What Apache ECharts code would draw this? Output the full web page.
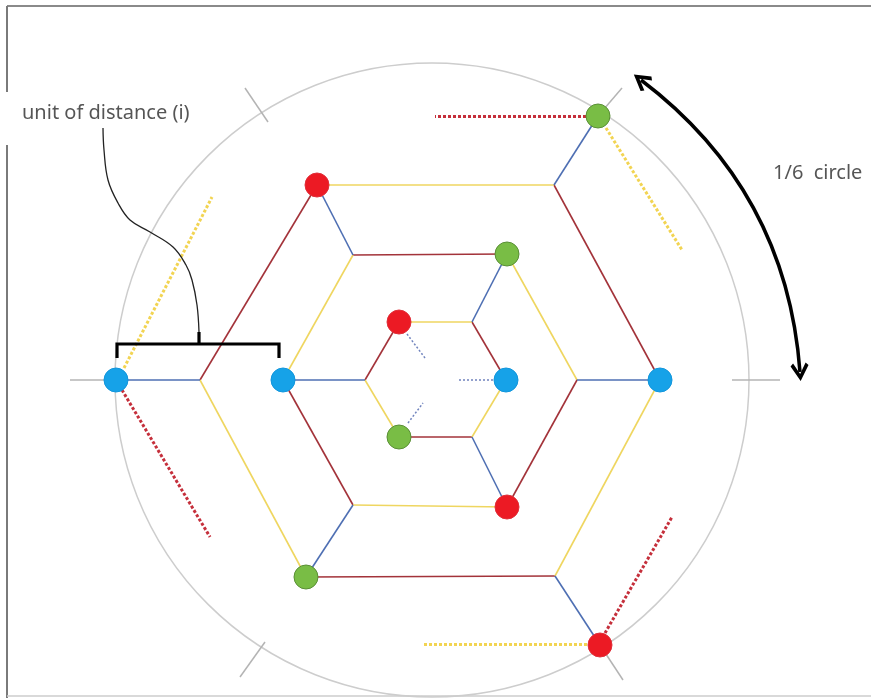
<!DOCTYPE html>
<html><head><meta charset="utf-8">
<script src="https://cdn.jsdelivr.net/npm/echarts@6/dist/echarts.min.js"></script>
<style>html,body{margin:0;padding:0;background:#fff}#c{width:871px;height:698px}</style>
</head><body><div id="c"></div>
<script>
// Diagram coordinates: origin at hexagon centre, x right, y up.
// Vertex order per ring: 0°, 60°, 120°, 180°, 240°, 300°
const ring1 = [[74,0],[40,58],[-33,58],[-67,0],[-33,-57],[40,-57]];
const ring2 = [[145,0],[75,126],[-79,125],[-149,0],[-79,-125],[75,-127]];
const ring3 = [[228,0],[122,195],[-115,195],[-232,0],[-126,-197],[123,-196]];
const ring4 = [null,[166,264],null,[-316,0],null,[168,-265]];
const circleRadius = 317;
const edgeColorsOdd  = ['red','yellow','red','yellow','red','yellow'];
const edgeColorsEven = ['yellow','red','yellow','red','yellow','red'];
// radial (blue) links: [from ring, vertex index] -> next ring, same vertex
const spokes = [[2,0],[1,1],[3,1],[2,2],[1,3],[3,3],[2,4],[1,5],[3,5]];
// dots: [ring, vertex index, colour]
const dots = [[1,0,'blue'],[1,2,'red'],[1,4,'green'],
              [2,3,'blue'],[2,1,'green'],[2,5,'red'],
              [3,0,'blue'],[3,2,'red'],[3,4,'green'],
              [4,3,'blue'],[4,1,'green'],[4,5,'red']];
// outer dotted half-edges: [start, end, colour]
const outerDotted = [
  [[154,264],[3,264],'red'],   [[174,252],[250,130],'yellow'],
  [[-308,12],[-220,183],'yellow'], [[-310,-10],[-222,-157],'red'],
  [[173,-253],[240,-137],'red'], [[155,-264],[-9,-264],'yellow']
];
// inner dotted stubs toward centre
const innerDotted = [[[-25,46],[-7,22]],[[61,0],[26,0]],[[-24,-43],[-9,-23]]];
// grey radial ticks across the circle
const ticks = [[[300,0],[348,0]],[[166,264],[190,292]],[[-187,292],[-164,258]],
               [[-362,0],[-316,0]],[[-192,-297],[-167,-262]],[[168,-265],[191,-300]]];
// bracket and its leader curve
const bracketLine = [[-315,22],[-315,36],[-153,36],[-153,22]];
const bracketTick = [[-233,36],[-233,48]];
const leaderCurve = [[-329,252],[-328,230],[-324,200],[-314,177],[-302,160],[-282,148],[-259,133],[-246,115],[-240,100],[-235,75],[-233,48]];
// 1/6 circle arrow end points
const arcArrow = [[209,300],[368,8]];
// labels
const labels = [{name:'unit of distance (i)', value:[-410,267]},{name:'1/6  circle', value:[341,207]}];
// frame
const frameTop = [[-425,374],[439,374]];
const frameLeftA = [[-425,374],[-425,288]];
const frameLeftB = [[-425,235],[-425,-318]];
const frameBottom = [[-425,-316],[439,-316]];

const lineCol = {red:'#a3333a', yellow:'#efd660', blue:'#4e6fb3'};
const dotCol = {blue:'#16a2e8', red:'#ec1a24', green:'#79bd45'};
const dotBorder = {blue:'#1296dc', red:'#e0303a', green:'#5a8f36'};
const rings = [null, ring1, ring2, ring3, ring4];

const edges = [];
[[ring1,edgeColorsOdd],[ring2,edgeColorsEven],[ring3,edgeColorsOdd]].forEach(([r,cols])=>{
  for(let k=0;k<6;k++){
    edges.push({coords:[r[k], r[(k+1)%6]], lineStyle:{color:lineCol[cols[k]]}});
  }
});
const spokeData = spokes.map(([ri,k])=>({coords:[rings[ri][k], rings[ri+1][k]]}));
const dotData = dots.map(([ri,k,c])=>({value:rings[ri][k], itemStyle:{color:dotCol[c], borderColor:dotBorder[c], borderWidth:1, opacity:1}}));
const outerDottedData = outerDotted.map(([a,b,c])=>({coords:[a,b], lineStyle:{color:c==='red'?'#c52f3b':'#f2d452'}}));

const chart = echarts.init(document.getElementById('c'), null, {renderer:'canvas'});
const option = {
  animation:false,
  backgroundColor:'#ffffff',
  grid:{left:0,right:0,top:0,bottom:0},
  xAxis:{type:'value',min:-432,max:439,show:false},
  yAxis:{type:'value',min:-318,max:380,show:false},
  series:[
    {id:'circle',type:'scatter',z:1,silent:true,symbol:'circle',symbolSize:2*circleRadius,
     data:[[0,0]],itemStyle:{color:'rgba(0,0,0,0)',borderColor:'#cdcdcd',borderWidth:1.5,opacity:1}},
    {type:'lines',coordinateSystem:'cartesian2d',z:2,silent:true,
     data:ticks.map(t=>({coords:t})),lineStyle:{color:'#b4b4b4',width:1.5,opacity:1}},
    {type:'lines',coordinateSystem:'cartesian2d',z:3,silent:true,
     data:edges,lineStyle:{width:1.6,opacity:1}},
    {type:'lines',coordinateSystem:'cartesian2d',z:3,silent:true,
     data:spokeData,lineStyle:{color:lineCol.blue,width:1.6,opacity:1}},
    {type:'lines',coordinateSystem:'cartesian2d',z:3,silent:true,
     data:outerDottedData,lineStyle:{width:3,type:[3,2],opacity:1}},
    {type:'lines',coordinateSystem:'cartesian2d',z:3,silent:true,
     data:innerDotted.map(t=>({coords:t})),lineStyle:{color:'#7083bd',width:1.5,type:[2,2],opacity:1}},
    {type:'scatter',z:5,silent:true,symbol:'circle',symbolSize:24,data:dotData,itemStyle:{opacity:1}},
    {type:'line',z:6,silent:true,data:bracketLine,showSymbol:false,symbol:'none',
     lineStyle:{color:'#000',width:3.2,join:'miter'}},
    {type:'line',z:6,silent:true,data:bracketTick,showSymbol:false,symbol:'none',
     lineStyle:{color:'#000',width:3.2}},
    {type:'line',z:6,silent:true,data:leaderCurve,showSymbol:false,symbol:'none',smooth:0.4,
     lineStyle:{color:'#222',width:1.3}},
    {type:'lines',coordinateSystem:'cartesian2d',z:6,silent:true,
     symbol:['path://M10,0 L20,14 L17,16.5 L10,6.5 L3,16.5 L0,14 Z','path://M10,0 L20,14 L17,16.5 L10,6.5 L3,16.5 L0,14 Z'],
     symbolSize:18,
     data:[{coords:arcArrow}],
     lineStyle:{color:'#000',width:3.5,curveness:0.226,opacity:1},
     itemStyle:{color:'#000'}},
    {type:'scatter',z:7,silent:true,symbolSize:0,data:labels,
     label:{show:true,position:'inside',align:'left',verticalAlign:'middle',
       formatter:p=>p.name,color:'#2a2a2a',fontSize:20,fontFamily:'Noto Sans'}},
    {type:'line',z:1,silent:true,data:frameTop,showSymbol:false,symbol:'none',lineStyle:{color:'#8a8a8a',width:2}},
    {type:'line',z:1,silent:true,data:frameLeftA,showSymbol:false,symbol:'none',lineStyle:{color:'#7a7a7a',width:2}},
    {type:'line',z:1,silent:true,data:frameLeftB,showSymbol:false,symbol:'none',lineStyle:{color:'#7a7a7a',width:2}},
    {type:'line',z:1,silent:true,data:frameBottom,showSymbol:false,symbol:'none',lineStyle:{color:'#cccccc',width:1.5}}
  ]
};
chart.setOption(option);
const p0 = chart.convertToPixel({gridIndex:0},[0,0]);
const p1 = chart.convertToPixel({gridIndex:0},[circleRadius,0]);
chart.setOption({series:[{id:'circle',symbolSize:2*(p1[0]-p0[0])}]});
</script></body></html>
